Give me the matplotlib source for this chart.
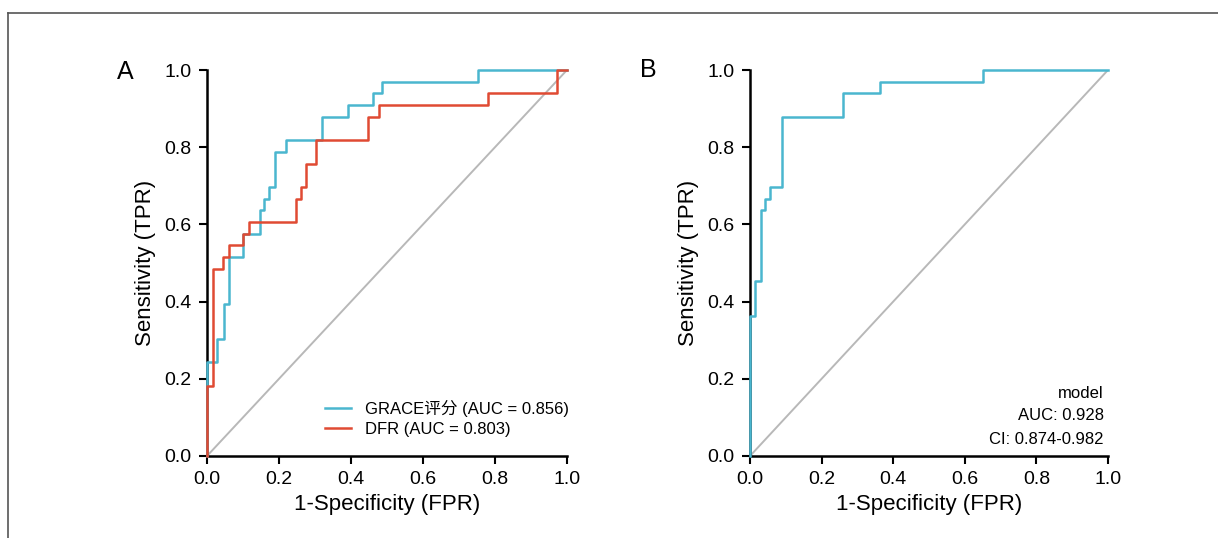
import numpy as np
import matplotlib

matplotlib.use("Agg")
import matplotlib.pyplot as plt
from matplotlib.lines import Line2D

plt.rcParams["font.family"] = ["Liberation Sans", "Noto Sans CJK SC", "DejaVu Sans"]

# ROC step points (x where the jump happens, tpr after the jump), tpr counted in 1/33
grace_fpr = [0, 0, 0.028, 0.046, 0.06, 0.101, 0.146, 0.157, 0.173, 0.189, 0.219,
             0.32, 0.392, 0.461, 0.487, 0.753, 1.0]
grace_tp = [0, 8, 10, 13, 17, 19, 21, 22, 23, 26, 27, 29, 30, 31, 32, 33, 33]

dfr_fpr = [0, 0, 0.017, 0.044, 0.06, 0.101, 0.118, 0.247, 0.26, 0.276, 0.304,
           0.447, 0.477, 0.781, 0.971, 1.0]
dfr_tp = [0, 6, 16, 17, 18, 19, 20, 22, 23, 25, 27, 29, 30, 31, 33, 33]

model_fpr = [0, 0, 0.014, 0.03, 0.043, 0.057, 0.088, 0.26, 0.362, 0.651, 1.0]
model_tp = [0, 12, 15, 21, 22, 23, 29, 31, 32, 33, 33]
n_pos = 33

legend_labels = ["GRACE评分 (AUC = 0.856)", "DFR (AUC = 0.803)"]
model_text = ["model", "AUC: 0.928", "CI: 0.874-0.982"]

blue = "#4ab6cf"
red = "#e04a33"
grey = "#b8b8b8"

W, H = 1218, 538
fig = plt.figure(figsize=(W / 100, H / 100), dpi=100)

# thin frame on top and left like the cropped source figure
fig.add_artist(Line2D([8 / W, 8 / W], [0, 1 - 13 / H], transform=fig.transFigure,
                      color="#555555", lw=1.2))
fig.add_artist(Line2D([8 / W, 1], [1 - 13 / H, 1 - 13 / H], transform=fig.transFigure,
                      color="#555555", lw=1.2))


def make_axes(left_px, right_px):
    ax = fig.add_axes([left_px / W, (H - 456) / H, (right_px - left_px) / W, 386 / H])
    ax.set_xlim(0, 1)
    ax.set_ylim(0, 1)
    for s in ["top", "right"]:
        ax.spines[s].set_visible(False)
    for s in ["left", "bottom"]:
        ax.spines[s].set_linewidth(1.8)
    ax.set_xticks(np.arange(0, 1.01, 0.2))
    ax.set_yticks(np.arange(0, 1.01, 0.2))
    ax.tick_params(width=1.5, length=6, labelsize=14, pad=5)
    ax.set_xlabel("1-Specificity (FPR)", fontsize=16, labelpad=4)
    ax.set_ylabel("Sensitivity (TPR)", fontsize=16, labelpad=6)
    ax.plot([0, 1], [0, 1], color=grey, lw=1.4, zorder=1)
    return ax


axA = make_axes(207, 567)
axA.plot(grace_fpr, np.array(grace_tp) / n_pos, drawstyle="steps-post", color=blue,
         lw=1.8, label=legend_labels[0], clip_on=False, zorder=3)
axA.plot(dfr_fpr, np.array(dfr_tp) / n_pos, drawstyle="steps-post", color=red,
         lw=1.8, label=legend_labels[1], clip_on=False, zorder=4)
axA.legend(loc="lower right", frameon=False, fontsize=12, handlelength=1.6,
           handletextpad=0.8, labelspacing=0.3, borderaxespad=0.3,
           bbox_to_anchor=(1.037, 0.02))
fig.text(125 / W, 1 - 72 / H, "A", fontsize=18, ha="center", va="center")

axB = make_axes(750, 1108)
axB.plot(model_fpr, np.array(model_tp) / n_pos, drawstyle="steps-post", color=blue,
         lw=1.8, clip_on=False, zorder=3)
for i, t in enumerate(model_text):
    axB.text(0.988, (456 - 393 - 23 * i) / 386, t, transform=axB.transAxes,
             ha="right", va="center", fontsize=12)
fig.text(648 / W, 1 - 70 / H, "B", fontsize=18, ha="center", va="center")

fig.savefig("out.png", dpi=100)
